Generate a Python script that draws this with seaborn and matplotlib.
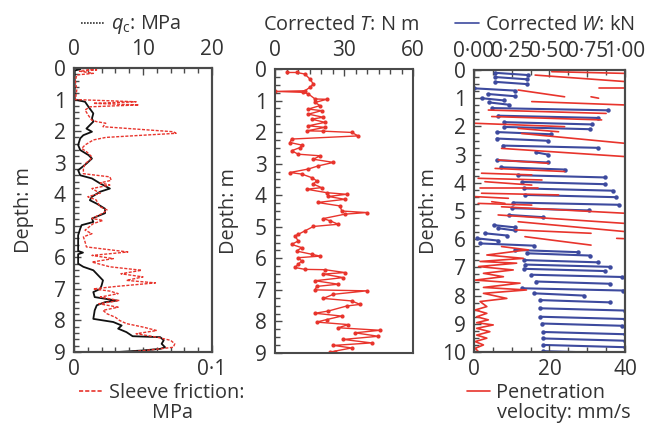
import numpy as np
import pandas as pd
import matplotlib
matplotlib.use("Agg")
import matplotlib.pyplot as plt
import seaborn as sns
from matplotlib.lines import Line2D
from matplotlib.ticker import MultipleLocator, FuncFormatter, FixedLocator

# ---------------- data ----------------
qc_depth = [0.0, 0.04, 0.08, 0.3, 0.6, 1.0, 1.07, 1.23, 1.44, 1.6,
            1.7, 1.81, 1.92, 2.02, 2.13, 2.23, 2.44, 2.6, 2.76, 2.87,
            3.03, 3.24, 3.4, 3.5, 3.66, 3.82, 3.92, 4.08, 4.19, 4.3,
            4.46, 4.6, 4.77, 4.88, 4.98, 5.09, 5.3, 5.6, 5.8, 5.85,
            5.9, 6.2, 6.3, 6.41, 6.57, 6.73, 6.89, 7.0, 7.1, 7.26,
            7.33, 7.37, 7.42, 7.52, 7.68, 7.95, 8.05, 8.16, 8.26, 8.37,
            8.5, 8.53, 8.63, 8.74, 8.85, 8.9, 8.95, 9.0]
qc_mpa = [0.2, 0.9, 0.1, 0.1, 0.1, 0.1, 1.6, 2.1, 2.8, 2.6,
          2.8, 2.3, 1.8, 2.6, 1.35, 0.9, 0.6, 0.9, 2.1, 2.6,
          1.8, 0.6, 0.9, 2.6, 3.8, 5.2, 3.8, 2.6, 2.3, 3.3,
          4.5, 4.5, 2.6, 2.8, 1.1, 0.9, 0.6, 0.6, 0.6, 1.3,
          0.6, 0.6, 1.35, 2.8, 3.5, 4.2, 4.0, 3.8, 2.8, 3.0,
          5.0, 6.2, 4.5, 3.3, 3.0, 2.8, 5.7, 6.9, 6.4, 7.6,
          8.5, 12.5, 13.0, 12.7, 13.2, 12.5, 10.0, 6.4]

fs_depth = [0.0, 0.06, 0.1, 0.17, 0.22, 0.4, 0.7, 1.0, 1.07, 1.12,
            1.17, 1.23, 1.33, 1.5, 1.65, 1.7, 1.75, 1.86, 2.02, 2.07,
            2.13, 2.2, 2.28, 2.44, 2.55, 2.65, 2.81, 2.92, 3.03, 3.19,
            3.35, 3.45, 3.56, 3.64, 3.71, 3.82, 3.97, 4.08, 4.18, 4.4,
            4.5, 4.6, 4.77, 4.83, 4.93, 5.14, 5.25, 5.35, 5.51, 5.67,
            5.83, 5.94, 6.04, 6.15, 6.3, 6.41, 6.52, 6.62, 6.73, 6.81,
            6.92, 7.0, 7.07, 7.15, 7.26, 7.37, 7.47, 7.58, 7.68, 7.79,
            7.9, 8.0, 8.1, 8.21, 8.32, 8.42, 8.53, 8.63, 8.74, 8.85,
            8.95, 9.0]
fs_mpa = [0.002, 0.0164, 0.004, 0.014, 0.002, 0.001, 0.002, 0.001, 0.045, 0.014,
          0.047, 0.0116, 0.008, 0.0104, 0.0128, 0.0164, 0.023, 0.021, 0.072, 0.074,
          0.050, 0.023, 0.014, 0.008, 0.0056, 0.009, 0.0128, 0.0116, 0.008, 0.0068,
          0.0068, 0.026, 0.027, 0.019, 0.026, 0.013, 0.019, 0.010, 0.016, 0.019,
          0.024, 0.021, 0.013, 0.021, 0.014, 0.008, 0.013, 0.0068, 0.008, 0.009,
          0.039, 0.013, 0.0285, 0.013, 0.026, 0.049, 0.034, 0.050, 0.038, 0.059,
          0.031, 0.014, 0.026, 0.032, 0.019, 0.033, 0.018, 0.032, 0.021, 0.024,
          0.030, 0.033, 0.038, 0.050, 0.060, 0.045, 0.060, 0.070, 0.073, 0.072,
          0.052, 0.040]

t_depth = [0.11, 0.11, 0.16, 0.32, 0.48, 0.58, 0.69, 0.71, 0.74, 0.79,
           0.95, 0.96, 1.06, 1.16, 1.27, 1.32, 1.43, 1.53, 1.59, 1.69,
           1.8, 1.85, 1.96, 1.97, 2.01, 2.12, 2.22, 2.33, 2.41, 2.49,
           2.59, 2.7, 2.75, 2.86, 2.96, 3.07, 3.17, 3.28, 3.33, 3.44,
           3.54, 3.65, 3.76, 3.81, 3.92, 3.97, 4.04, 4.13, 4.23, 4.34,
           4.5, 4.55, 4.6, 4.74, 4.81, 4.92, 4.99, 5.13, 5.24, 5.29,
           5.45, 5.56, 5.66, 5.77, 5.87, 5.93, 5.98, 6.08, 6.19, 6.29,
           6.35, 6.36, 6.45, 6.5, 6.61, 6.71, 6.82, 6.89, 7.0, 7.03,
           7.14, 7.27, 7.35, 7.46, 7.51, 7.67, 7.74, 7.83, 7.94, 8.02,
           8.1, 8.2, 8.28, 8.36, 8.47, 8.57, 8.68, 8.76, 8.84, 8.97,
           8.98]
t_nm = [5.1, 9.4, 13, 15.2, 16.7, 15.2, 13, 0, 12.3, 14.5,
        17.4, 22.5, 17.4, 19.6, 14.5, 20.3, 14.5, 21, 15.9, 21.7,
        14.5, 21.7, 13.8, 21, 33.3, 36.2, 7.2, 6.5, 11.6, 10.9,
        7.2, 10.1, 19.6, 16.7, 25.4, 18.8, 14.5, 6.5, 11.6, 15.9,
        18.1, 16.7, 20.3, 13.8, 22.5, 31.2, 23.2, 30.4, 18.5, 28.3,
        29, 39.9, 30.4, 21, 23.9, 27.5, 16.7, 13, 10.1, 8.7,
        10.1, 7.2, 11.6, 9.4, 15.9, 19.6, 10.1, 11.6, 10.1, 8.7,
        13, 21.7, 30.4, 21, 29.7, 17.4, 27.5, 18.1, 17.4, 39.9,
        25.4, 21, 33.3, 37, 31.2, 23.2, 17.4, 29, 22.5, 18.1,
        31.9, 27.5, 45.7, 34.8, 44.9, 29.7, 42, 25.4, 33.3, 23.9,
        26]

# corrected W strokes: depth, W at left end, W at right end
w_depth = [0.1, 0.25, 0.42, 0.65, 0.85, 1.0, 1.15, 1.35, 1.62, 1.85,
           2.02, 2.2, 2.43, 2.68, 2.92, 3.2, 3.45, 3.73, 3.97, 4.2,
           4.43, 4.7, 4.9, 5.14, 5.5, 5.61, 5.79, 5.97, 6.15, 6.38,
           6.5, 6.74, 6.9, 7.05, 7.26, 7.5, 7.74, 7.92, 8.16, 8.45,
           8.75, 8.99, 9.29, 9.52, 9.75, 9.97]
w_low = [0.14, 0.14, 0.14, 0.0, 0.09, 0.05, 0.1, 0.12, 0.16, 0.2,
         0.2, 0.15, 0.15, 0.19, 0.41, 0.15, 0.18, 0.29, 0.32, 0.33,
         0.34, 0.26, 0.25, 0.23, 0.13, 0.16, 0.07, 0.02, 0.04, 0.27,
         0.35, 0.33, 0.34, 0.33, 0.38, 0.41, 0.32, 0.4, 0.44, 0.44,
         0.44, 0.45, 0.46, 0.46, 0.46, 0.46]
w_high = [0.36, 0.35, 0.35, 0.27, 0.27, 0.2, 0.23, 0.89, 0.82, 0.78,
          0.77, 0.51, 0.49, 0.82, 0.49, 0.49, 0.6, 0.87, 0.87, 0.92,
          0.94, 0.96, 0.76, 0.46, 0.27, 0.27, 0.22, 0.16, 0.4, 0.69,
          0.77, 0.82, 0.9, 0.87, 0.98, 0.9, 0.99, 0.73, 0.9, 1.0,
          1.0, 0.98, 1.0, 1.0, 1.0, 1.0]

# penetration velocity strokes (upper part): start depth/value, end depth/value
v_d0 = [0.06, 0.18, 0.65, 0.71, 0.95, 1.12, 1.42, 1.65, 1.89, 2.07,
        2.25, 2.78, 3.19, 3.49, 3.66, 3.84, 3.96, 4.2, 4.37, 4.49,
        4.67, 4.73, 4.85, 5.14, 5.38, 5.67, 5.91, 5.97, 6.26]
v_v0 = [20.6, 16.2, 33, 11.7, 31, 15.3, 3.8, 4.7, 0.3, 11.7,
        12.6, 7.3, 6.4, 5.6, 2.0, 1.1, 2.9, 1.6, 2.0, 0.3,
        4.7, 1.1, 7.3, 6.4, 11.7, 10.9, 13.5, 37.8, 7.3]
v_d1 = [0.12, 0.41, 0.65, 0.95, 1.0, 1.24, 1.54, 1.77, 2.01, 2.19,
        2.6, 3.07, 3.31, 3.6, 3.72, 3.9, 4.08, 4.2, 4.43, 4.55,
        4.73, 4.79, 5.08, 5.44, 5.73, 5.79, 6.21, 5.98, 6.38]
v_v1 = [40, 40, 40, 24, 33, 40, 35, 33.8, 24, 22.4,
        40, 40, 19.7, 24, 15.3, 18, 15.3, 17, 22.4, 9.1,
        8.2, 15.3, 40, 40, 40, 31, 31, 39.6, 14.4]
# penetration velocity zigzag (lower part)
vz_depth = [6.38, 6.56, 6.68, 6.79, 6.85, 6.97, 7.09, 7.21, 7.33, 7.45,
            7.56, 7.71, 7.8, 7.92, 8.1, 8.21, 8.39, 8.51, 8.63, 8.75,
            8.86, 8.96, 9.04, 9.16, 9.28, 9.4, 9.51, 9.63, 9.75, 9.87,
            9.99]
vz_vel = [13.9, 3.4, 13.1, 1.6, 11.3, 1.2, 10.4, 2.5, 7.8, 0.3,
          12.2, 2.5, 13.9, 2.5, 8.7, 1.6, 3.4, 0.3, 3.4, 0.7,
          3.8, 0.7, 5.1, 0.7, 4.2, 0.7, 3.4, 0.3, 2.5, 0.3,
          1.2]

# ---------------- style ----------------
sns.set_theme(style="white")
FONT = "Open Sans"
plt.rcParams["font.family"] = [FONT, "DejaVu Sans"]
plt.rcParams["mathtext.fontset"] = "custom"
plt.rcParams["mathtext.rm"] = FONT
plt.rcParams["mathtext.it"] = FONT + ":italic"
TXT = "#333333"
SPINE = "#4a4a4a"
RED = "#e8342c"
BLUE = "#3d4a9e"
FS = 14.3
TFS = 15
plt.rcParams["text.color"] = TXT

dot = lambda v, p, n: ("0" if v == 0 and n == 0 else f"{v:.{n}f}".replace(".", "\u00b7"))

fig = plt.figure(figsize=(6.66, 4.26), dpi=100)
ax1 = fig.add_axes([74 / 666, 1 - 352 / 426, 138 / 666, 284 / 426])
ax2 = fig.add_axes([275 / 666, 1 - 353 / 426, 138 / 666, 284 / 426])
ax3 = fig.add_axes([474 / 666, 1 - 352 / 426, 151 / 666, 282 / 426])
ax1b = ax1.twiny()
ax3b = ax3.twiny()

# panel 1
sns.lineplot(x=qc_mpa, y=qc_depth, sort=False, estimator=None, color="#111111",
             lw=1.3, ax=ax1)
sns.lineplot(x=fs_mpa, y=fs_depth, sort=False, estimator=None, color=RED,
             lw=1.0, ls=(0, (2.2, 1.1)), ax=ax1b)
# panel 2
sns.lineplot(x=t_nm, y=t_depth, sort=False, estimator=None, color=RED, lw=1.0,
             marker="o", markersize=3, markeredgewidth=0, ax=ax2)
# panel 3
wd = pd.DataFrame({
    "depth": np.concatenate([w_depth, np.array(w_depth) + 0.08]),
    "w": np.concatenate([w_low, w_high]),
    "stroke": np.concatenate([np.arange(len(w_depth))] * 2),
})
sns.lineplot(data=wd, x="w", y="depth", units="stroke", estimator=None, sort=False,
             color=BLUE, lw=1.5, marker="o", markersize=3.2, markeredgewidth=0, ax=ax3)
vd = pd.DataFrame({
    "depth": np.concatenate([v_d0, v_d1, vz_depth]),
    "v": np.concatenate([v_v0, v_v1, vz_vel]),
    "stroke": np.concatenate([np.arange(len(v_d0)), np.arange(len(v_d0)),
                              np.full(len(vz_depth), 999)]),
})
sns.lineplot(data=vd, x="v", y="depth", units="stroke", estimator=None, sort=False,
             color=RED, lw=1.2, ax=ax3b)

for ax in (ax1, ax1b, ax2, ax3, ax3b):
    ax.set_xlabel("")
    ax.set_ylabel("")
    for s in ax.spines.values():
        s.set_color(SPINE)
        s.set_linewidth(1.5)
    ax.tick_params(which="both", direction="in", color=SPINE, labelcolor=TXT,
                   labelsize=TFS, width=1.0)
    ax.tick_params(which="major", length=5)
    ax.tick_params(which="minor", length=3.5)

for ax, top, lp in ((ax1, 9, 14), (ax2, 9, 11), (ax3, 10, 2)):
    ax.set_ylim(top, 0)
    ax.yaxis.set_major_locator(MultipleLocator(1))
    ax.tick_params(axis="y", which="both", left=True, right=False, pad=6)
    ax.set_ylabel("Depth: m", fontsize=FS, color=TXT, labelpad=lp)
ax1.yaxis.set_minor_locator(MultipleLocator(0.2))
ax2.yaxis.set_minor_locator(MultipleLocator(0.25))
ax3.yaxis.set_minor_locator(MultipleLocator(0.25))

# x axes
ax1.xaxis.tick_top()
ax1.set_xlim(0, 20)
ax1.xaxis.set_major_locator(MultipleLocator(10))
ax1.xaxis.set_minor_locator(MultipleLocator(2))
ax1b.xaxis.tick_bottom()
ax1b.set_xlim(0, 0.1)
ax1b.xaxis.set_major_locator(FixedLocator([0, 0.1]))
ax1b.xaxis.set_minor_locator(MultipleLocator(0.01))
ax1b.xaxis.set_major_formatter(FuncFormatter(lambda v, p: dot(v, p, 0 if v == 0 else 1)))

ax2.xaxis.tick_top()
ax2.set_xlim(0, 60)
ax2.xaxis.set_major_locator(MultipleLocator(30))
ax2.xaxis.set_minor_locator(MultipleLocator(5))

ax3.xaxis.tick_top()
ax3.set_xlim(0, 1)
ax3.xaxis.set_major_locator(MultipleLocator(0.25))
ax3.xaxis.set_minor_locator(MultipleLocator(0.125))
ax3.xaxis.set_major_formatter(FuncFormatter(lambda v, p: f"{v:.2f}".replace(".", "\u00b7")))
ax3b.xaxis.tick_bottom()
ax3b.set_xlim(0, 40)
ax3b.xaxis.set_major_locator(MultipleLocator(20))
ax3b.xaxis.set_minor_locator(MultipleLocator(5))

for ax in (ax1, ax2, ax3):
    ax.tick_params(axis="x", which="both", top=True, bottom=False, pad=6)
for ax in (ax1b, ax3b):
    ax.tick_params(axis="x", which="both", top=False, bottom=True, pad=5)

# titles / legends
leg_kw = dict(frameon=False, fontsize=FS, handlelength=1.2, handletextpad=0.3,
              borderpad=0, borderaxespad=0, loc="center",
              bbox_transform=fig.transFigure, labelcolor=TXT)
ax1.legend([Line2D([], [], color="#333333", lw=1.2, ls=(0, (1, 0.8)))],
           [r"$q_\mathrm{c}$: MPa"], bbox_to_anchor=(131 / 666, 1 - 25 / 426), **leg_kw)
fig.text(341 / 666, 1 - 25 / 426, r"Corrected $T$: N m", ha="center", va="center",
         fontsize=FS, color=TXT)
ax3.legend([Line2D([], [], color=BLUE, lw=1.2)],
           [r"Corrected $W$: kN"], bbox_to_anchor=(545 / 666, 1 - 25 / 426), **leg_kw)
ax1b.legend([Line2D([], [], color=RED, lw=1.2, ls=(0, (2.5, 1.2)))],
            ["Sleeve friction:"], bbox_to_anchor=(162 / 666, 1 - 393 / 426), **leg_kw)
fig.text(173 / 666, 1 - 413 / 426, "MPa", ha="center", va="center", fontsize=FS, color=TXT)
ax3b.legend([Line2D([], [], color=RED, lw=1.2)],
            ["Penetration"], bbox_to_anchor=(536 / 666, 1 - 393 / 426), **leg_kw)
fig.text(497 / 666, 1 - 413 / 426, "velocity: mm/s", ha="left", va="center",
         fontsize=FS, color=TXT)

fig.savefig("out.png", dpi=100, facecolor="white")
